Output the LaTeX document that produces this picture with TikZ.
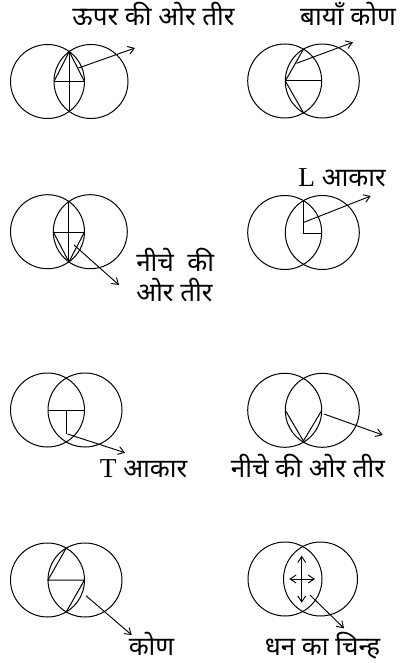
\documentclass[tikz,border=0pt]{standalone}
\usepackage{fontspec}
\setmainfont{Liberation Serif}
\newfontfamily\deva[Script=Devanagari]{Noto Sans}
\newfontfamily\latinserif{Liberation Serif}
\usetikzlibrary{arrows.meta}
\newcommand{\latinch}[1]{{\latinserif\fontsize{20.5}{24}\selectfont #1}}
\tikzset{
  ring/.style={draw, line width=0.75pt},
  seg/.style={line width=0.75pt},
  pointer/.style={line width=0.7pt, -{Straight Barb[length=4.5pt,width=6pt]}},
  pointerboth/.style={line width=0.7pt, {Straight Barb[length=4.5pt,width=6pt]}-{Straight Barb[length=4.5pt,width=6pt]}},
  lbl/.style={font=\deva\fontsize{19.5}{23}\selectfont, inner sep=0pt, anchor=base},
}
\begin{document}
\begin{tikzpicture}[x=0.75pt, y=-0.75pt]
\useasboundingbox (0,0) rectangle (403,663);
% ---------- panel 1
\coordinate (aL) at (47.5,81.5); \coordinate (aR) at (91,81.5);
\coordinate (aT) at (69.25,51.6); \coordinate (aB) at (69.25,111.4);
\coordinate (aW) at (54,81.5); \coordinate (aE) at (84.5,81.5);
\coordinate (aS) at (78.5,68); \coordinate (aH) at (135,48);
\draw[ring] (aL) circle[radius=37]; \draw[ring] (aR) circle[radius=37];
\draw[seg] (aT) -- (aB); \draw[seg] (aW) -- (aE); \draw[seg] (aW) -- (aT) -- (aE);
\draw[pointer] (aS) -- (aH);
\node[lbl] (aLab) at (153.5,26) {ऊपर की ओर तीर};
% ---------- panel 2
\coordinate (bL) at (284.7,81); \coordinate (bR) at (322.3,81);
\coordinate (bT) at (303.5,49.1); \coordinate (bB) at (303.5,112.9);
\coordinate (bW) at (285.3,81); \coordinate (bE) at (321.7,81);
\coordinate (bS) at (296.5,63.3); \coordinate (bH) at (353,42.3);
\draw[ring] (bL) circle[radius=37]; \draw[ring] (bR) circle[radius=37];
\draw[seg] (bT) -- (bW) -- (bB); \draw[seg] (bW) -- (bE);
\draw[pointer] (bS) -- (bH);
\node[lbl] (bLab) at (348,26) {बायाँ कोण};
% ---------- panel 3
\coordinate (cL) at (47.5,231.7); \coordinate (cR) at (90.3,231.7);
\coordinate (cT) at (68.9,201.5); \coordinate (cB) at (68.9,261.9);
\coordinate (cW) at (53.3,232); \coordinate (cE) at (84.5,232);
\coordinate (cS) at (74,245); \coordinate (cH) at (119,285);
\draw[ring] (cL) circle[radius=37]; \draw[ring] (cR) circle[radius=37];
\draw[seg] (cT) -- (cB); \draw[seg] (cW) -- (cE); \draw[seg] (cW) -- (cB) -- (cE);
\draw[pointer] (cS) -- (cH);
\node[lbl, anchor=base west] (cLab1) at (136,271) {नीचे\ \ की};
\node[lbl, anchor=base west] (cLab2) at (136,301) {ओर तीर};
% ---------- panel 4
\coordinate (dL) at (284.7,232.5); \coordinate (dR) at (322.3,232.5);
\coordinate (dT) at (303.5,200.6); \coordinate (dC) at (303.5,233);
\coordinate (dE) at (321,233);
\coordinate (dS) at (304,222.3); \coordinate (dH) at (370.7,196);
\draw[ring] (dL) circle[radius=37]; \draw[ring] (dR) circle[radius=37];
\draw[seg] (dT) -- (dC) -- (dE);
\draw[pointer] (dS) -- (dH);
\node[lbl] (dLab) at (342,186) {\latinch{L} आकार};
% ---------- panel 5
\coordinate (eL) at (47.5,410); \coordinate (eR) at (85,410);
\coordinate (eW) at (48,410.7); \coordinate (eE) at (84.5,410.7);
\coordinate (eM) at (66.7,410.7); \coordinate (eF) at (66.7,434);
\coordinate (eS) at (67.5,434); \coordinate (eH) at (125,452.7);
\draw[ring] (eL) circle[radius=37]; \draw[ring] (eR) circle[radius=37];
\draw[seg] (eW) -- (eE); \draw[seg] (eM) -- (eF);
\draw[pointer] (eS) -- (eH);
\node[lbl] (eLab) at (143.5,477) {\latinch{T} आकार};
% ---------- panel 6
\coordinate (fL) at (284.7,410.3); \coordinate (fR) at (322.3,410.3);
\coordinate (fW) at (285.7,411); \coordinate (fB) at (303.4,441);
\coordinate (fE) at (321.7,410.5);
\coordinate (fS) at (324,414); \coordinate (fH) at (382.7,435);
\draw[ring] (fL) circle[radius=37]; \draw[ring] (fR) circle[radius=37];
\draw[seg] (fW) -- (fB) -- (fE);
\draw[pointer] (fS) -- (fH);
\node[lbl] (fLab) at (308,477) {नीचे की ओर तीर};
% ---------- panel 7
\coordinate (gL) at (47.5,580); \coordinate (gR) at (85,580);
\coordinate (gT) at (66.25,548.1); \coordinate (gB) at (66.25,611.9);
\coordinate (gW) at (48,580); \coordinate (gE) at (84.5,580);
\coordinate (gS) at (86,595.7); \coordinate (gH) at (131.7,635);
\draw[ring] (gL) circle[radius=37]; \draw[ring] (gR) circle[radius=37];
\draw[seg] (gT) -- (gW) -- (gE) -- (gB);
\draw[pointer] (gS) -- (gH);
\node[lbl] (gLab) at (151.5,655) {कोण};
% ---------- panel 8
\coordinate (hL) at (285,579); \coordinate (hR) at (320.5,579);
\coordinate (hN) at (301.7,555.7); \coordinate (hSo) at (301.7,602.7);
\coordinate (hWe) at (289.3,579); \coordinate (hEa) at (315,579);
\coordinate (hS) at (310,595); \coordinate (hH) at (344,628.3);
\draw[ring] (hL) circle[radius=37]; \draw[ring] (hR) circle[radius=37];
\draw[pointerboth] (hN) -- (hSo); \draw[pointerboth] (hWe) -- (hEa);
\draw[pointer] (hS) -- (hH);
\node[lbl] (hLab) at (322.5,655) {धन का चिन्ह};
\end{tikzpicture}
\end{document}
